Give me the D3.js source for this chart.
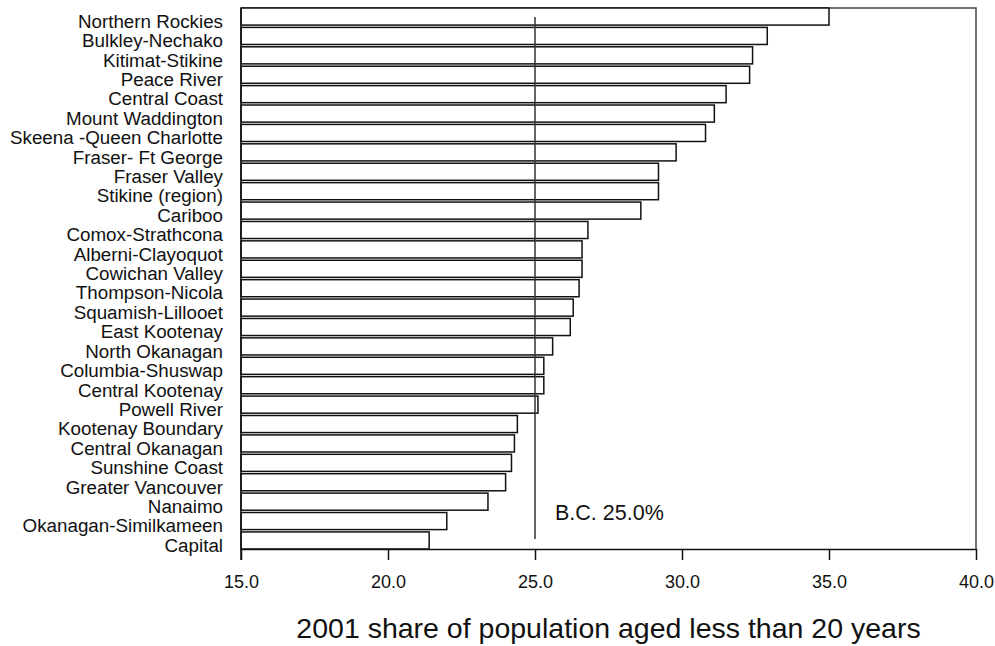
<!DOCTYPE html>
<html>
<head>
<meta charset="utf-8">
<script src="https://cdn.jsdelivr.net/npm/d3@7/dist/d3.min.js"></script>
<style>
  html, body { margin: 0; padding: 0; background: #fff; }
  svg { display: block; font-family: "Liberation Sans", Arial, sans-serif; }
</style>
</head>
<body>
<svg id="chart" width="995" height="646"></svg>
<script>
const categories = [
  "Northern Rockies", "Bulkley-Nechako", "Kitimat-Stikine", "Peace River",
  "Central Coast", "Mount Waddington", "Skeena -Queen Charlotte", "Fraser- Ft George",
  "Fraser Valley", "Stikine (region)", "Cariboo", "Comox-Strathcona",
  "Alberni-Clayoquot", "Cowichan Valley", "Thompson-Nicola", "Squamish-Lillooet",
  "East Kootenay", "North Okanagan", "Columbia-Shuswap", "Central Kootenay",
  "Powell River", "Kootenay Boundary", "Central Okanagan", "Sunshine Coast",
  "Greater Vancouver", "Nanaimo", "Okanagan-Similkameen", "Capital"
];
const values = [
  35.0, 32.9, 32.4, 32.3,
  31.5, 31.1, 30.8, 29.8,
  29.2, 29.2, 28.6, 26.8,
  26.6, 26.6, 26.5, 26.3,
  26.2, 25.6, 25.3, 25.3,
  25.1, 24.4, 24.3, 24.2,
  24.0, 23.4, 22.0, 21.4
];
const xTicks = [15, 20, 25, 30, 35, 40];
const bcValue = 25.0;
const bcLabel = "B.C. 25.0%";
const xTitle = "2001 share of population aged less than 20 years";

const svg = d3.select("#chart");
const mLeft = 241, mRight = 976, mTop = 8, mBottom = 549;

const x = d3.scaleLinear().domain([15, 40]).range([mLeft, mRight]);
const y = d3.scaleBand().domain(categories).range([mTop, mBottom])
  .paddingInner(0.12).paddingOuter(0);

const data = categories.map((c, i) => ({ c, v: values[i] }));

// frame (top & right)
svg.append("path")
  .attr("d", `M${mLeft},${mTop}H${mRight}V${mBottom}`)
  .attr("fill", "none").attr("stroke", "#444").attr("stroke-width", 1.5);

// bars
svg.append("g").selectAll("rect").data(data).join("rect")
  .attr("x", x(15))
  .attr("y", d => y(d.c))
  .attr("width", d => x(d.v) - x(15))
  .attr("height", y.bandwidth())
  .attr("fill", "#fff")
  .attr("stroke", "#111")
  .attr("stroke-width", 1.5);

// reference line
svg.append("line")
  .attr("x1", x(bcValue)).attr("x2", x(bcValue))
  .attr("y1", 17).attr("y2", 539)
  .attr("stroke", "#333").attr("stroke-width", 1.5);

svg.append("text")
  .attr("x", x(bcValue) + 20).attr("y", 520)
  .attr("font-size", 21.5).attr("fill", "#111")
  .text(bcLabel);

// x axis
const xAxis = d3.axisBottom(x).tickValues(xTicks)
  .tickFormat(d3.format(".1f")).tickSize(11).tickPadding(15).tickSizeOuter(0);
const gx = svg.append("g").attr("transform", `translate(0,${mBottom})`).call(xAxis);
gx.select(".domain").attr("stroke", "#111").attr("stroke-width", 1.5);
gx.selectAll(".tick line").attr("stroke", "#111").attr("stroke-width", 1.5);
gx.selectAll(".tick text").attr("font-size", 18).attr("fill", "#111")
  .attr("font-family", "Liberation Sans, Arial, sans-serif");

// y axis (line + labels)
const yAxis = d3.axisLeft(y).tickSize(0).tickPadding(18);
const gy = svg.append("g").attr("transform", `translate(${mLeft},0)`).call(yAxis);
gy.select(".domain").remove();
gy.selectAll(".tick text").attr("font-size", 18.8).attr("fill", "#111")
  .attr("dy", "0.6em")
  .attr("font-family", "Liberation Sans, Arial, sans-serif");
svg.append("line")
  .attr("x1", mLeft).attr("x2", mLeft).attr("y1", mTop).attr("y2", mBottom + 11)
  .attr("stroke", "#111").attr("stroke-width", 1.5);

// x title
svg.append("text")
  .attr("x", 608.5).attr("y", 637.5)
  .attr("text-anchor", "middle")
  .attr("font-size", 28.5).attr("fill", "#111")
  .text(xTitle);
</script>
</body>
</html>
